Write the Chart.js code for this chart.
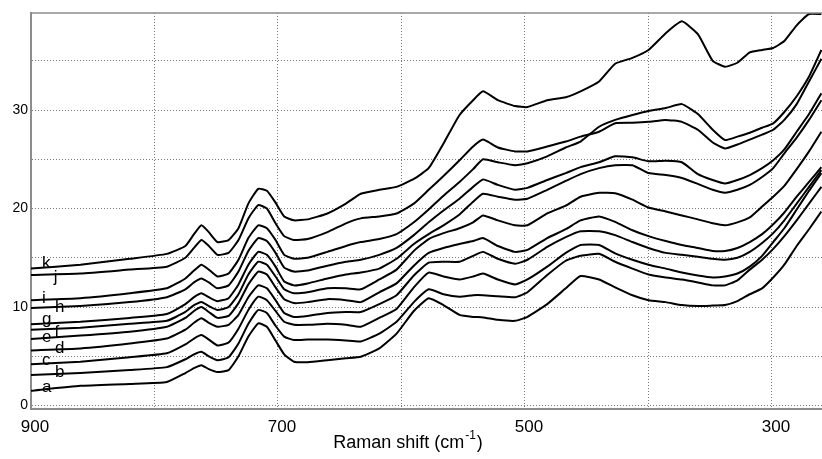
<!DOCTYPE html>
<html>
<head>
<meta charset="utf-8">
<script src="https://cdn.jsdelivr.net/npm/chart.js@4.4.1/dist/chart.umd.min.js"></script>
<style>
  body { margin: 0; background: #fff; }
  #wrap { width: 822px; height: 459px; }
</style>
</head>
<body>
<div id="wrap"><canvas id="chart" width="822" height="459"></canvas></div>
<script>
// Raman shift (cm-1), descending
const shifts = [900, 860, 820, 790, 775, 768, 762, 756, 749, 740, 732, 724, 716, 709, 702, 695, 687, 676, 660, 645,
  633, 618, 604, 590, 578, 566, 553, 542, 534, 522, 508, 498, 482, 467, 455, 440, 427, 413, 400, 386,
  373, 360, 348, 338, 328, 318, 308, 299, 290, 280, 270, 260];

const specA = [1.5, 2.0, 2.2, 2.4, 3.3, 3.8, 4.1, 3.7, 3.4, 3.6, 5.0, 7.0, 8.35, 8.0, 6.6, 5.2, 4.45, 4.4, 4.6, 4.8,
  4.95, 5.8, 7.3, 9.6, 10.9, 10.2, 9.2, 9.0, 8.95, 8.7, 8.6, 9.0, 10.3, 11.9, 13.15, 12.8, 12.0, 11.2, 10.7, 10.5,
  10.2, 10.1, 10.15, 10.2, 10.6, 11.3, 11.9, 13.0, 14.3, 16.2, 17.9, 19.7];
const specB = [3.1, 3.3, 3.6, 3.9, 4.7, 5.2, 5.46, 5.0, 4.6, 4.9, 6.3, 8.3, 9.7, 9.4, 8.1, 7.0, 6.65, 6.7, 6.7, 6.6,
  6.5, 7.3, 8.5, 10.5, 11.8, 11.3, 11.05, 11.2, 11.2, 11.1, 11.0, 11.5, 13.25, 14.7, 15.2, 15.4, 14.6, 13.9, 13.3, 13.0,
  12.8, 12.5, 12.2, 12.2, 12.7, 13.8, 14.8, 15.9, 17.2, 18.8, 20.5, 22.2];
const specC = [4.2, 4.45, 4.9, 5.3, 6.2, 6.8, 7.15, 6.7, 6.1, 6.4, 7.8, 9.7, 11.05, 10.7, 9.6, 8.5, 8.2, 8.2, 8.3, 8.2,
  8.0, 8.9, 9.8, 12.0, 13.5, 13.1, 12.8, 13.1, 13.4, 12.8, 12.3, 12.8, 14.1, 15.5, 16.3, 16.3, 15.45, 14.8, 14.3, 13.9,
  13.5, 13.2, 13.0, 13.1, 13.4, 14.1, 15.2, 16.6, 18.0, 19.9, 21.8, 23.6];
const specD = [5.6, 5.8, 6.3, 6.8, 7.7, 8.4, 8.85, 8.4, 8.0, 8.2, 9.2, 11.0, 12.2, 11.9, 10.7, 9.4, 9.0, 9.1, 9.4, 9.5,
  9.5, 10.3, 11.2, 13.2, 14.5, 14.6, 14.6, 15.2, 15.6, 14.9, 14.4, 14.8, 16.1, 17.1, 17.7, 17.7, 17.3, 16.6, 16.0, 15.5,
  15.3, 15.1, 14.9, 14.8, 15.0, 15.6, 16.5, 17.5, 18.8, 20.5, 22.2, 23.9];
const specE = [6.75, 7.1, 7.5, 8.0, 8.9, 9.6, 10.0, 9.5, 8.9, 9.1, 10.4, 12.3, 13.6, 13.3, 12.0, 10.8, 10.4, 10.5, 10.8, 10.7,
  10.5, 11.5, 12.4, 14.2, 15.5, 16.0, 16.4, 16.7, 17.0, 16.2, 15.6, 15.8, 17.0, 17.9, 18.8, 19.2, 18.65, 17.8, 17.2, 16.7,
  16.3, 16.0, 15.7, 15.7, 16.0, 16.6, 17.4, 18.4, 19.6, 21.2, 22.7, 24.2];
const specF = [7.7, 7.9, 8.3, 8.6, 9.5, 10.2, 10.5, 10.1, 9.7, 10.0, 11.3, 13.3, 14.6, 14.3, 13.1, 11.8, 11.4, 11.5, 11.9, 11.9,
  11.8, 12.8, 13.8, 15.7, 16.9, 17.5, 18.0, 18.6, 19.3, 18.8, 18.3, 18.3, 19.5, 20.3, 21.2, 21.6, 21.55, 20.9, 20.1, 19.7,
  19.3, 18.9, 18.5, 18.3, 18.6, 19.1, 20.2, 21.2, 22.3, 24.0, 25.8, 27.8];
const specG = [8.25, 8.5, 8.9, 9.3, 10.3, 11.0, 11.4, 11.0, 10.6, 10.9, 12.3, 14.3, 15.6, 15.3, 14.1, 12.6, 12.2, 12.4, 12.9, 13.3,
  13.5, 13.9, 14.9, 16.4, 17.4, 18.3, 19.4, 20.7, 21.5, 21.2, 20.9, 21.0, 21.9, 22.8, 23.5, 24.1, 24.4, 24.4, 23.6, 23.4,
  23.1, 22.5, 21.9, 21.6, 21.9, 22.4, 23.2, 24.1, 25.6, 27.2, 29.0, 31.0];
const specH = [9.9, 10.1, 10.5, 11.0, 11.8, 12.5, 12.9, 12.5, 11.9, 12.2, 13.6, 15.7, 17.0, 16.7, 15.5, 14.0, 13.6, 13.7, 14.2, 14.6,
  14.8, 15.3, 16.0, 17.3, 18.6, 19.8, 21.0, 22.2, 22.96, 22.4, 21.9, 22.1, 22.9, 23.6, 24.2, 24.7, 25.3, 25.2, 24.8, 24.85,
  24.7, 23.5, 22.9, 22.55, 22.9, 23.4, 24.1, 24.9, 26.0, 27.8, 29.6, 31.7];
const specI = [10.7, 10.9, 11.4, 11.9, 12.9, 13.7, 14.3, 13.8, 13.1, 13.4, 14.8, 17.0, 18.3, 18.0, 16.8, 15.3, 14.9, 15.0, 15.6, 16.2,
  16.6, 16.9, 17.4, 18.6, 19.9, 21.3, 22.7, 24.0, 25.0, 24.7, 24.4, 24.6, 25.3, 26.2, 26.8, 28.3, 29.0, 29.5, 29.9, 30.2,
  30.6, 29.6, 28.0, 26.95, 27.3, 27.7, 28.2, 28.65, 29.8, 31.4, 33.4, 36.1];
const specJ = [13.25, 13.4, 13.8, 14.1, 15.0, 16.0, 16.8, 16.2, 15.3, 15.5, 16.8, 19.0, 20.35, 20.0, 18.5, 17.2, 16.8, 16.9, 17.6, 18.5,
  19.0, 19.2, 19.5, 20.5, 21.9, 23.3, 24.9, 26.3, 27.0, 26.2, 25.8, 25.8, 26.3, 26.8, 27.3, 27.8, 28.65, 28.7, 28.8, 29.0,
  28.8, 28.0, 26.7, 26.1, 26.5, 27.0, 27.5, 28.0, 29.0, 30.6, 32.9, 35.2];
const specK = [13.9, 14.3, 14.9, 15.4, 16.2, 17.4, 18.3, 17.6, 16.6, 16.8, 18.0, 20.5, 22.0, 21.8, 20.6, 19.2, 18.8, 18.9, 19.5, 20.5,
  21.5, 21.9, 22.2, 23.0, 24.1, 26.6, 29.5, 31.0, 31.9, 31.0, 30.4, 30.3, 31.0, 31.3, 31.9, 32.9, 34.7, 35.3, 36.1, 37.8,
  39.0, 37.7, 35.0, 34.4, 34.8, 35.85, 36.1, 36.3, 37.0, 38.6, 39.75, 39.75];

const curveNames = ['a', 'b', 'c', 'd', 'e', 'f', 'g', 'h', 'i', 'j', 'k'];
const curves = [specA, specB, specC, specD, specE, specF, specG, specH, specI, specJ, specK];

// where each letter sits (data units: shift, baseline height)
const labelShift = [891, 880.5, 891, 880.5, 891, 881, 891, 880.5, 891, 881.5, 891];
const labelHeight = [1.4, 2.86, 4.11, 5.3, 6.48, 6.99, 8.3, 9.53, 10.38, 12.57, 13.93];

const xGrid = [900, 800, 700, 600, 500, 400, 300];
const xTickLabels = [900, 700, 500, 300];
const yGrid = [0, 5, 10, 15, 20, 25, 30, 35];
const yTickLabels = [0, 10, 20, 30];

const FONT = '"Liberation Sans", Arial, sans-serif';

const letterPlugin = {
  id: 'letters',
  afterDatasetsDraw(chart) {
    const { ctx, scales: { x, y } } = chart;
    ctx.save();
    ctx.fillStyle = '#000';
    ctx.font = '17px ' + FONT;
    ctx.textAlign = 'left';
    ctx.textBaseline = 'alphabetic';
    curveNames.forEach((n, i) => {
      ctx.fillText(n, x.getPixelForValue(labelShift[i]), y.getPixelForValue(labelHeight[i]));
    });
    ctx.restore();
  }
};

const framePlugin = {
  id: 'frame',
  afterDraw(chart) {
    const { ctx, chartArea: a } = chart;
    ctx.save();
    ctx.strokeStyle = '#8c8c8c';
    ctx.lineWidth = 1.5;
    ctx.beginPath();
    ctx.moveTo(a.left, a.top);
    ctx.lineTo(a.right, a.top);
    ctx.stroke();
    // axis title with superscript
    const base = 448;
    ctx.fillStyle = '#000';
    ctx.textBaseline = 'alphabetic';
    ctx.textAlign = 'left';
    ctx.font = '18px ' + FONT;
    const t1 = 'Raman shift (cm', t3 = ')';
    const w1 = ctx.measureText(t1).width, w3 = ctx.measureText(t3).width;
    ctx.font = '12px ' + FONT;
    const t2 = '-1';
    const w2 = ctx.measureText(t2).width;
    let px = 408 - (w1 + w2 + w3 + 2) / 2;
    ctx.font = '18px ' + FONT;
    ctx.fillText(t1, px, base);
    ctx.font = '12px ' + FONT;
    ctx.fillText(t2, px + w1 + 1, base - 9);
    ctx.font = '18px ' + FONT;
    ctx.fillText(t3, px + w1 + w2 + 2, base);
    ctx.restore();
  }
};

new Chart(document.getElementById('chart'), {
  type: 'line',
  data: {
    datasets: curves.map((c, i) => ({
      label: curveNames[i],
      data: c.map((v, j) => ({ x: shifts[j], y: v })),
      borderColor: '#000',
      borderWidth: 2,
      pointRadius: 0,
      tension: 0.15,
      fill: false
    }))
  },
  options: {
    responsive: false,
    animation: false,
    layout: { padding: { top: 13, right: 0, left: 0, bottom: 0 } },
    plugins: { legend: { display: false }, tooltip: { enabled: false } },
    scales: {
      x: {
        type: 'linear',
        reverse: true,
        min: 259.5,
        max: 900,
        afterBuildTicks: s => { s.ticks = xGrid.map(v => ({ value: v })); },
        afterFit: s => { s.height = 50; },
        ticks: {
          autoSkip: false,
          maxRotation: 0,
          color: '#000',
          font: { family: FONT, size: 17 },
          padding: 8,
          labelOffset: 4,
          callback: v => xTickLabels.includes(v) ? String(v) : ''
        },
        grid: { color: '#7a7a7a', lineWidth: 1, drawTicks: false },
        border: { display: true, color: '#8c8c8c', width: 2, dash: [1, 2] }
      },
      y: {
        type: 'linear',
        min: -0.35,
        max: 39.85,
        afterBuildTicks: s => { s.ticks = yGrid.map(v => ({ value: v })); },
        afterFit: s => { s.width = 31; },
        ticks: {
          autoSkip: false,
          color: '#000',
          font: { family: FONT, size: 14 },
          padding: 3,
          callback: v => yTickLabels.includes(v) ? String(v) : ''
        },
        grid: { color: '#7a7a7a', lineWidth: 1, drawTicks: false },
        border: { display: true, color: '#8c8c8c', width: 2, dash: [1, 2] }
      }
    }
  },
  plugins: [letterPlugin, framePlugin]
});
</script>
</body>
</html>
